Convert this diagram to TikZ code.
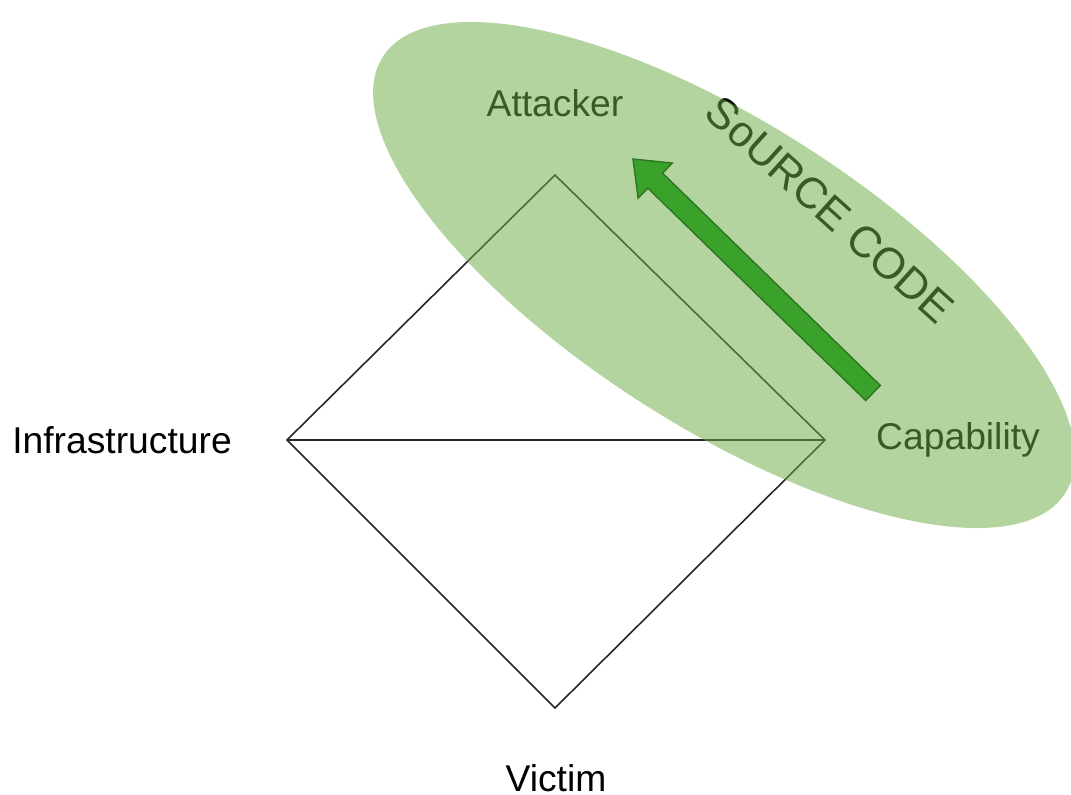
\documentclass[tikz,border=0pt]{standalone}
\usepackage{fontspec}
\setmainfont{Liberation Sans}
\usetikzlibrary{calc}
\definecolor{blobgreen}{RGB}{112,173,71}
\definecolor{arrowgreen}{RGB}{58,161,42}
\definecolor{arrowedge}{RGB}{44,118,34}

\begin{document}
\begin{tikzpicture}[font=\fontsize{10.6}{12.7}\selectfont]
\useasboundingbox (0,0) rectangle (10.71,-7.95);
% diamond
\coordinate (adv) at (5.55,-1.75);
\coordinate (infra) at (2.87,-4.40);
\coordinate (cap) at (8.25,-4.40);
\coordinate (vic) at (5.55,-7.08);
\draw[black!85, line width=.45pt] (adv)--(cap)--(vic)--(infra)--cycle;
\draw[black!85, line width=.45pt] (infra)--(cap);
% labels
\node (infralabel) at (1.22,-4.40) {Infrastructure};
\node (viclabel) at (5.56,-7.78) {Victim};
\node (advlabel) at (5.55,-1.03) {Attacker};
\node (caplabel) at (9.58,-4.40) {Capability};
\node[rotate=-42, font=\fontsize{12.4}{14}\selectfont] (srclabel) at (8.30,-2.10) {SoURCE CODE};
% source blob
\fill[blobgreen, fill opacity=.52, shift={(7.24,-2.75)}, rotate=-32.6] (0,0) ellipse [x radius=4.05, y radius=1.52];
% arrow capability -> attacker
\coordinate (tail) at (8.73,-3.93);
\coordinate (tip) at (6.33,-1.59);
\coordinate (neck) at ($(tip)!0.31cm!(tail)$);
\draw[arrowedge, fill=arrowgreen, line width=.4pt, line join=miter]
 ($(tail)!0.105cm!90:(tip)$) -- ($(neck)!0.105cm!90:(tip)$) -- ($(neck)!0.245cm!90:(tip)$)
 -- (tip) -- ($(neck)!0.245cm!-90:(tip)$) -- ($(neck)!0.105cm!-90:(tip)$) -- ($(tail)!0.105cm!-90:(tip)$) -- cycle;
\end{tikzpicture}
\end{document}
